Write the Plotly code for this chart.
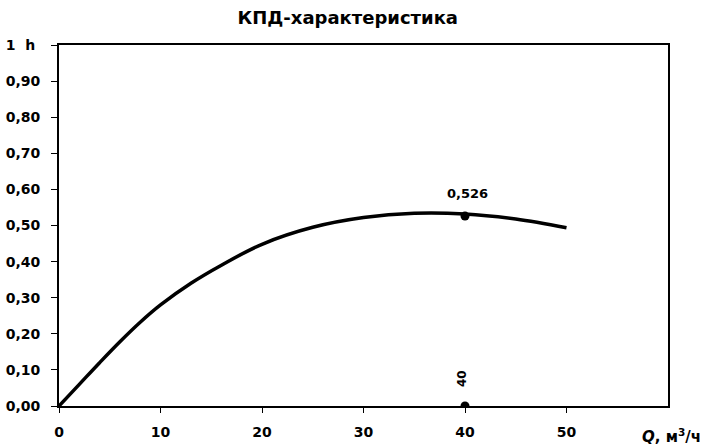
import plotly.graph_objects as go

# Efficiency curve
q_vals = [0, 2, 4, 6, 8, 10, 13, 16, 20, 25, 30, 35, 40, 45, 50]
eta_vals = [0.0, 0.06, 0.12, 0.178, 0.232, 0.28, 0.34, 0.39, 0.448, 0.495, 0.522, 0.534, 0.532, 0.518, 0.494]

# Operating point
q_op = [40]
eta_op = [0.526]
eta_op_label = ["0,526"]
q_axis_point = [40]
q_axis_label = ["40"]

y_tickvals = [0, 0.1, 0.2, 0.3, 0.4, 0.5, 0.6, 0.7, 0.8, 0.9, 1.0]
y_ticktext = ["0,00", "0,10", "0,20", "0,30", "0,40", "0,50", "0,60", "0,70", "0,80", "0,90",
              "1\u00a0\u00a0h\u00a0"]
x_tickvals = [0, 10, 20, 30, 40, 50]
x_ticktext = ["0", "10", "20", "30", "40", "50"]

title_text = "КПД-характеристика"
x_axis_title = "<i>Q</i>, м<sup>3</sup>/ч"

FONT = "DejaVu Sans, sans-serif"

fig = go.Figure()
fig.add_trace(go.Scatter(
    x=q_vals, y=eta_vals, mode="lines",
    line=dict(color="black", width=3.5, shape="spline", smoothing=1.0),
    hoverinfo="skip", showlegend=False,
))
fig.add_trace(go.Scatter(
    x=q_op + q_axis_point, y=eta_op + [0], mode="markers",
    marker=dict(color="black", size=9),
    showlegend=False,
))

fig.add_annotation(x=q_op[0], y=eta_op[0], text="<b>" + eta_op_label[0] + "</b>",
                   showarrow=False, yshift=23, xshift=2, font=dict(family=FONT, size=13, color="black"))
fig.add_annotation(x=q_axis_point[0], y=0, text="<b>" + q_axis_label[0] + "</b>",
                   showarrow=False, yshift=27, xshift=-3, textangle=-90,
                   font=dict(family=FONT, size=12, color="black"))
fig.add_annotation(xref="paper", yref="paper", x=1.0, y=0, xanchor="right", yanchor="middle",
                   xshift=35, yshift=-30, text="<b>" + x_axis_title + "</b>", showarrow=False,
                   font=dict(family=FONT, size=15, color="black"))

fig.update_layout(
    width=704, height=446,
    margin=dict(l=59, r=36, t=45, b=40),
    paper_bgcolor="white", plot_bgcolor="white",
    title=dict(text="<b>" + title_text + "</b>", x=0.494, xanchor="center",
               y=1 - 18 / 446, yanchor="middle",
               font=dict(family=FONT, size=18, color="black")),
    font=dict(family=FONT, color="black"),
    xaxis=dict(range=[0, 60], tickvals=x_tickvals, ticktext=x_ticktext, automargin=False,
               showgrid=False, zeroline=False, showline=True, linecolor="black", linewidth=2,
               mirror=True, ticks="outside", ticklen=5, tickwidth=1, tickcolor="black",
               ticklabelstandoff=7,
               tickfont=dict(family=FONT, size=14, color="black", weight="bold")),
    yaxis=dict(range=[0, 1], tickvals=y_tickvals, ticktext=y_ticktext, automargin=False,
               showgrid=False, zeroline=False, showline=True, linecolor="black", linewidth=2,
               mirror=True, ticks="outside", ticklen=6, tickwidth=1, tickcolor="black",
               ticklabelstandoff=8,
               tickfont=dict(family=FONT, size=14, color="black", weight="bold")),
)

fig.write_html("out.html", config={"displayModeBar": False},
               post_script="document.body.style.margin='0';")
